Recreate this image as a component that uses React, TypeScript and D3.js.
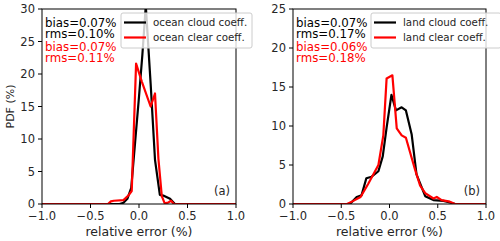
import React from "react";
import * as d3 from "d3";

const xTicks = [-1.0, -0.5, 0.0, 0.5, 1.0];
const yTicksA = [0, 5, 10, 15, 20, 25, 30];
const yTicksB = [0, 5, 10, 15, 20, 25];

const oceanCloudX = [-1, -0.2, -0.16, -0.12, -0.08, -0.04, 0.0, 0.035, 0.07, 0.12, 0.165, 0.215, 0.25, 0.32, 0.37, 1];
const oceanCloudY = [0, 0, 0.2, 0.8, 2.5, 9.5, 16.5, 23, 30.5, 18.5, 6.8, 1.4, 1.3, 0.8, 0, 0];
const oceanClearX = [-1, -0.32, -0.29, -0.26, -0.16, -0.11, -0.075, -0.03, 0.03, 0.12, 0.165, 0.2, 0.235, 0.265, 0.3, 0.33, 0.36, 1];
const oceanClearY = [0, 0, 0.4, 0.5, 0.6, 1.3, 2.0, 21.6, 18.8, 15, 17, 7, 1.2, 0.1, 0.2, 0.5, 0, 0];

const landCloudX = [-1, -0.41, -0.34, -0.29, -0.24, -0.185, -0.115, -0.07, -0.03, 0.02, 0.067, 0.126, 0.17, 0.23, 0.28, 0.37, 0.455, 0.56, 0.625, 0.68, 1];
const landCloudY = [0, 0, 0.9, 1.1, 3.3, 3.5, 4.2, 6.1, 9.8, 14, 12, 12.4, 12, 8.9, 3.8, 1.0, 0.5, 0.4, 0.2, 0, 0];
const landClearX = [-1, -0.44, -0.375, -0.3, -0.22, -0.115, -0.064, -0.03, 0.03, 0.075, 0.126, 0.17, 0.265, 0.316, 0.37, 0.455, 0.49, 0.54, 0.625, 0.68, 1];
const landClearY = [0, 0, 0.4, 0.9, 2.6, 5.0, 8.8, 16.1, 16.5, 9.7, 8.8, 8.5, 4.4, 2.4, 1.4, 0.7, 0.9, 0.5, 0.3, 0, 0];

const statsA = ["bias=0.07%", "rms=0.10%", "bias=0.07%", "rms=0.11%"];
const statsB = ["bias=0.07%", "rms=0.17%", "bias=0.06%", "rms=0.18%"];
const legendA = ["ocean cloud coeff.", "ocean clear coeff."];
const legendB = ["land cloud coeff.", "land clear coeff."];

const FONT = "DejaVu Sans, sans-serif";

type PanelProps = {
  x0: number; x1: number; yMax: number; yTicks: number[];
  cx: number[]; cy: number[]; rx: number[]; ry: number[];
  stats: string[]; legend: string[]; tag: string; legendX: number; legendW: number;
  ylabel?: boolean; id: string;
};

function Panel(p: PanelProps) {
  const top = 9, bottom = 204;
  const x = d3.scaleLinear().domain([-1, 1]).range([p.x0, p.x1]);
  const y = d3.scaleLinear().domain([0, p.yMax]).range([bottom, top]);
  const line = d3.line<[number, number]>().x(d => x(d[0])).y(d => y(d[1]));
  const cData = p.cx.map((v, i) => [v, p.cy[i]] as [number, number]);
  const rData = p.rx.map((v, i) => [v, p.ry[i]] as [number, number]);
  const statColors = ["#000", "#000", "#ff0000", "#ff0000"];
  const statY = [26.5, 37.5, 51, 62];
  return (
    <g>
      <defs>
        <clipPath id={p.id}>
          <rect x={p.x0} y={top} width={p.x1 - p.x0} height={bottom - top} />
        </clipPath>
      </defs>
      <g clipPath={`url(#${p.id})`}>
        <path d={line(cData) || ""} fill="none" stroke="#000" strokeWidth={2.2} strokeLinejoin="round" />
        <path d={line(rData) || ""} fill="none" stroke="#ff0000" strokeWidth={2.2} strokeLinejoin="round" />
      </g>
      <rect x={p.x0} y={top} width={p.x1 - p.x0} height={bottom - top} fill="none" stroke="#000" strokeWidth={1} />
      {xTicks.map(t => (
        <g key={t}>
          <line x1={x(t)} x2={x(t)} y1={bottom} y2={bottom + 4} stroke="#000" />
          <text x={x(t)} y={219.5} fontSize={11.5} textAnchor="middle" fontFamily={FONT} fill="#262626">
            {t < 0 ? "\u2212" + Math.abs(t).toFixed(1) : t.toFixed(1)}
          </text>
        </g>
      ))}
      {p.yTicks.map(t => (
        <g key={t}>
          <line x1={p.x0 - 4} x2={p.x0} y1={y(t)} y2={y(t)} stroke="#000" />
          <text x={p.x0 - 7} y={y(t) + 4} fontSize={11.5} textAnchor="end" fontFamily={FONT} fill="#262626">{t}</text>
        </g>
      ))}
      <text x={(p.x0 + p.x1) / 2} y={236} fontSize={12.5} textAnchor="middle" fontFamily={FONT} fill="#262626">relative error (%)</text>
      {p.ylabel && (
        <text transform={`translate(14,${(top + bottom) / 2}) rotate(-90)`} fontSize={11} textAnchor="middle" fontFamily={FONT} fill="#262626">PDF (%)</text>
      )}
      {p.stats.map((s, i) => (
        <text key={i} x={p.x0 + 3} y={statY[i]} fontSize={11.8} fontFamily={FONT} fill={statColors[i]}>{s}</text>
      ))}
      <text x={p.x1 - 6} y={195} fontSize={11.5} textAnchor="end" fontFamily={FONT} fill="#262626">{p.tag}</text>
      <rect x={p.legendX} y={13} width={p.legendW} height={35} rx={2} fill="#fff" fillOpacity={0.8} stroke="#ccc" strokeWidth={1} />
      <line x1={p.legendX + 3} x2={p.legendX + 25} y1={22.5} y2={22.5} stroke="#000" strokeWidth={2.2} />
      <line x1={p.legendX + 3} x2={p.legendX + 25} y1={37.5} y2={37.5} stroke="#ff0000" strokeWidth={2.2} />
      <text x={p.legendX + 32} y={26} fontSize={10.3} fontFamily={FONT} fill="#262626">{p.legend[0]}</text>
      <text x={p.legendX + 32} y={41} fontSize={10.3} fontFamily={FONT} fill="#262626">{p.legend[1]}</text>
    </g>
  );
}

export default function App() {
  return (
    <svg width={500} height={241} style={{ position: "absolute", left: 0, top: 0, background: "#fff" }}>
      <Panel id="ca" x0={42} x1={236} yMax={30} yTicks={yTicksA} cx={oceanCloudX} cy={oceanCloudY} rx={oceanClearX} ry={oceanClearY}
        stats={statsA} legend={legendA} tag="(a)" legendX={121} legendW={131} ylabel />
      <Panel id="cb" x0={293} x1={486} yMax={25} yTicks={yTicksB} cx={landCloudX} cy={landCloudY} rx={landClearX} ry={landClearY}
        stats={statsB} legend={legendB} tag="(b)" legendX={371} legendW={130} />
    </svg>
  );
}
